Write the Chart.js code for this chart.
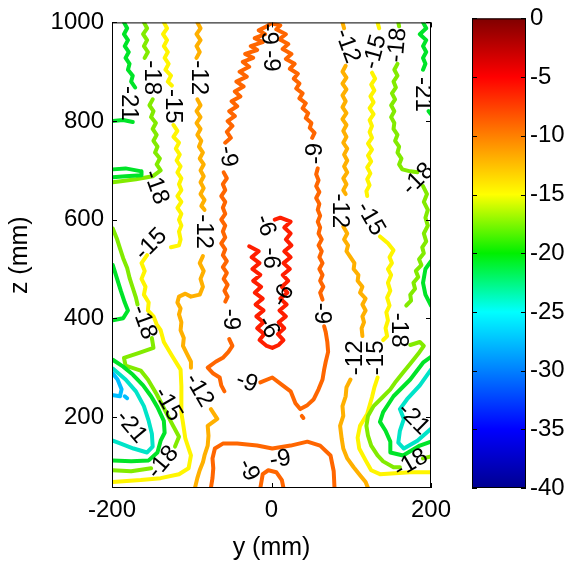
<!DOCTYPE html>
<html>
<head>
<meta charset="utf-8">
<title>contour</title>
<script src="https://cdn.jsdelivr.net/npm/chart.js@4.4.0/dist/chart.umd.min.js"></script>
<style>
  html, body { margin: 0; padding: 0; background: #fff; }
  #wrap { position: relative; width: 584px; height: 565px; }
  canvas { position: absolute; left: 0; top: 0; }
</style>
</head>
<body>
<div id="wrap">
  <canvas id="contourChart" width="584" height="565"></canvas>
  <canvas id="colorbarChart" width="584" height="565"></canvas>
</div>
<script>
var FONT = '"Liberation Sans", Arial, Helvetica, sans-serif';

var xTicks = [-200, 0, 200];
var zTicks = [200, 400, 600, 800, 1000];
var cbTicks = [-40, -35, -30, -25, -20, -15, -10, -5, 0];

/* contour pieces: pairs of y (mm), z (mm) */
var c6Loop = [-28,546, -16,536, -25,524, -15,512, -24,500, -14,488, -23,476, -13,464, -21,452, -11,440, -20,428, -10,416, -19,404, -10,392, -18,380, -9,368, -15,356, -6,344, 1,340, 9,346, 15,356, 8,368, 16,380, 9,392, 18,404, 10,416, 19,428, 11,440, 20,452, 13,464, 21,476, 14,488, 23,500, 15,512, 24,524, 16,536, 25,548, 18,560, 24,572, 16,584, 24,596, 11,604, 4,600];

var c9Top = [51,766, 54,776, 48,786, 50,796, 43,806, 46,816, 39,826, 43,836, 35,846, 39,856, 31,866, 35,876, 28,886, 33,896, 23,906, 29,916, 18,926, 25,936, 14,946, 21,956, 10,966, 18,976, 6,986, 11,994, -1,998, -6,992, -16,984, -8,976, -21,968, -11,960, -26,952, -18,944, -33,936, -23,928, -36,920, -28,910, -40,900, -31,890, -44,880, -35,870, -46,860, -39,850, -50,840, -43,830, -53,820, -46,810, -55,800, -49,790, -56,778, -51,766, -58,756];
var c9Left = [-60,696, -56,684, -61,672, -58,660, -63,648, -58,636, -61,624, -58,612, -63,600, -58,588, -61,576, -58,564, -63,552, -58,540, -61,528, -56,516, -61,504, -56,492, -60,480, -55,468, -59,456, -55,444, -58,434];
var c9Bottom1 = [-53,358, -49,344, -54,332, -61,320, -70,312, -80,300, -73,288, -65,280, -63,264, -59,252];
var c9Bottom2 = [-14,270, 1,280, 14,264, 24,252, 30,228, 36,216, 45,224, 53,236, 59,256, 64,276, 66,296, 68,312, 71,332, 70,352, 68,372, 66,384];
var c9Right = [64,438, 61,452, 65,464, 61,476, 64,488, 60,500, 64,512, 60,524, 63,536, 59,548, 63,560, 59,572, 61,584, 58,596, 61,608, 58,620, 60,632, 56,644, 60,656, 56,668, 59,680, 56,692, 58,704];
var c9Dot = [38,202, 40,198];
var c9Arch = [-76,56, -74,76, -73,96, -74,116, -71,136, -61,146, -43,146, -18,142, 1,136, 24,142, 45,150, 61,142, 74,122, 78,90, 79,56];
var c9Inner = [-14,56, -11,84, -4,92, 6,88, 13,72, 15,56];

var c12Left1 = [-93,1000, -89,988, -94,976, -89,964, -94,952, -90,940, -94,928];
var c12Left2 = [-93,844, -89,832, -94,820, -89,808, -94,796, -89,784, -93,772, -88,760, -91,748, -86,736, -90,724, -85,712, -89,700, -85,688, -89,676, -85,664, -89,652, -84,640, -88,628, -84,620];
var c12Left3 = [-86,526, -90,512, -85,496, -89,480, -86,464, -90,448, -101,444, -108,450, -116,444, -118,432, -114,420, -116,408, -113,392, -114,376, -110,360, -111,344, -106,328, -101,312, -101,300];
var c12Left4 = [-76,216, -68,196, -80,182, -79,162, -80,142, -84,122, -86,108, -90,92, -93,76, -96,56];
var c12Right0 = [89,1000, 91,988];
var c12Right1 = [93,912, 89,900, 94,888, 89,876, 94,864, 89,852, 93,840, 89,828, 94,816, 89,804, 94,792, 90,780, 94,768, 90,756, 95,744, 91,732, 95,720, 91,708, 95,696, 90,684, 94,672, 90,660, 93,652];
var c12Right2 = [90,586, 95,572, 91,560, 96,548, 94,536, 99,524, 104,512, 103,500, 109,488, 108,476, 114,464, 111,452, 118,440, 114,428, 118,416, 114,404, 116,392, 113,380, 114,364];
var c12Right3 = [99,276, 94,260, 93,242, 89,222, 90,202, 86,182, 88,156, 90,136, 95,116, 103,98, 111,82, 118,68, 121,56];

var c15Left1 = [-135,1000, -131,988, -136,976, -131,964, -135,952, -130,940, -134,928, -129,916, -133,904, -126,892, -130,880, -125,872];
var c15Left2 = [-123,792, -118,780, -123,768, -116,756, -120,744, -115,732, -119,720, -114,708, -118,696, -113,684, -116,672, -113,660, -118,648, -113,636, -118,624, -113,612, -116,600, -113,588, -116,576, -114,560, -116,548, -126,544];
var c15Left3 = [-156,528, -163,512, -159,496, -163,480, -158,464, -160,448, -154,432, -155,416, -148,404, -144,388, -139,376, -135,352, -124,322, -114,296, -113,262, -113,232, -113,208, -111,188, -108,156, -101,122, -104,96, -116,84, -139,76, -164,72, -199,68];
var c15Right0 = [133,1000, 135,988];
var c15Right1 = [126,898, 130,886, 125,874, 129,862, 124,850, 128,838, 123,826, 128,814, 123,802, 126,790, 123,778, 126,766, 121,754, 126,742, 121,730, 125,718, 120,706, 124,694, 120,682, 123,670, 119,658, 120,648];
var c15Right2 = [136,566, 146,552, 153,538, 148,524, 151,512, 146,500, 150,488, 146,472, 149,456, 145,442, 148,426, 144,412, 146,396, 143,380, 145,364, 140,356];
var c15Right3 = [133,280, 129,260, 126,240, 120,206, 111,182, 108,158, 110,136, 118,112, 125,92, 136,84, 155,86, 174,88, 200,88];

var c18Left1 = [-160,1000, -156,988, -161,976, -156,964, -160,952, -155,940, -159,928];
var c18Left2 = [-149,844, -153,832, -148,820, -151,808, -145,796, -149,784, -144,772, -148,760, -143,748, -146,736, -140,724, -144,712, -139,700, -149,688, -170,682, -189,678, -199,676];
var c18Left3 = [-199,582, -194,562, -190,542, -186,522, -181,502, -178,482, -174,462, -170,442, -168,428];
var c18Left4 = [-150,360, -148,340, -166,330, -185,320, -183,304, -164,294, -155,276, -144,246, -133,212, -124,184, -116,160, -121,140];
var c18Left5 = [-151,96, -176,90, -199,92];
var c18Right0 = [159,1000, 160,992];
var c18Right1 = [158,916, 154,904, 158,892, 153,880, 156,868, 151,856, 155,844, 150,832, 154,820, 150,808, 154,796, 153,784, 158,772, 155,760, 160,748, 158,736, 163,724, 160,712, 164,702, 174,698, 183,696];
var c18Right2 = [190,668, 195,652, 191,636, 196,620, 193,604, 196,588, 191,572, 194,556, 189,544, 191,532, 185,520, 188,508, 181,496, 184,484, 178,472, 180,460, 174,448, 175,436, 169,426];
var c18Right3 = [174,346, 186,352, 191,344, 184,328, 174,308, 165,290, 156,272, 149,256, 138,238, 128,222, 121,202, 119,182, 121,162, 125,142, 133,122, 140,110, 153,98, 161,98];
var c18Right4 = [190,116, 200,120];

var c21Left1 = [-185,1000, -181,988, -185,976, -180,964, -184,952, -179,940, -183,928, -178,916, -180,904, -174,892, -176,880, -171,868];
var c21Left2 = [-199,800, -186,802, -174,798];
var c21Left3 = [-199,702, -183,704, -163,698, -163,690, -183,688, -199,686];
var c21Left4 = [-199,508, -194,482, -189,456, -184,432, -180,416, -186,400, -199,396];
var c21Left5 = [-199,316, -186,302, -174,286, -161,264, -151,242, -143,220, -135,192, -134,168, -139,152, -143,128, -154,112, -176,110, -199,112];
var c21Right1 = [190,1000, 194,988, 186,976, 194,964, 190,952, 194,940, 190,928, 193,916, 190,904];
var c21Right2 = [197,820, 200,814];
var c21Right3 = [200,516, 193,500, 190,472, 193,448, 200,426];
var c21Right4 = [200,322, 190,310, 174,276, 153,242, 140,210, 136,190, 143,172, 149,150, 149,128, 165,122, 186,142, 200,150];

var c24Left = [-199,298, -183,276, -170,252, -160,222, -154,192, -150,166, -149,140, -156,128, -173,136, -189,146, -199,152];
var c24Right = [200,296, 186,264, 170,236, 161,216, 166,196, 161,172, 159,148, 166,136, 183,152, 200,176];
var c27Left = [-199,288, -193,276, -188,256, -190,242, -198,244];
var c27Dot = [-184,242, -181,238];

var contourSegs = [
    [-27, c27Left], [-27, c27Dot],
    [-24, c24Left], [-24, c24Right],
    [-21, c21Left1], [-21, c21Left2], [-21, c21Left3], [-21, c21Left4], [-21, c21Left5],
    [-21, c21Right1], [-21, c21Right2], [-21, c21Right3], [-21, c21Right4],
    [-18, c18Left1], [-18, c18Left2], [-18, c18Left3], [-18, c18Left4], [-18, c18Left5],
    [-18, c18Right0], [-18, c18Right1], [-18, c18Right2], [-18, c18Right3], [-18, c18Right4],
    [-15, c15Left1], [-15, c15Left2], [-15, c15Left3],
    [-15, c15Right0], [-15, c15Right1], [-15, c15Right2], [-15, c15Right3],
    [-12, c12Left1], [-12, c12Left2], [-12, c12Left3], [-12, c12Left4],
    [-12, c12Right0], [-12, c12Right1], [-12, c12Right2], [-12, c12Right3],
    [-9, c9Top], [-9, c9Left], [-9, c9Bottom1], [-9, c9Bottom2], [-9, c9Right],
    [-9, c9Dot], [-9, c9Arch], [-9, c9Inner],
    [-6, c6Loop]
];

/* inline contour labels */
var labelText  = ['-21','-18','-15','-12','-9','-18','-15','-12','-9','-18','-9','-12','-15','-21','-18','-9','-9','-6','-6','-6','-6','-9','-9','-12','-15','-12','-15','-18','-21','-18','-12','-15','-18','-21','-18','-9','-9'];
var labelY     = [-179,-150,-124,-92,-55,-145,-151,-85,-51,-160,-31,-91,-130,-176,-136,-29,11,-8,-1,15,-4,63,55,86,124,105,131,159,178,175,95,130,158,189,184,-4,-1];
var labelZ     = [836,888,830,888,728,666,550,576,398,392,270,254,226,180,108,92,114,588,522,446,382,410,734,618,602,320,320,376,196,106,952,940,954,854,682,976,922];
var labelAngle = [90,90,90,90,80,70,-45,90,90,70,20,60,60,50,-50,65,-10,70,90,-60,60,90,-90,90,60,-90,-90,90,45,-30,70,-75,-85,90,-45,90,90];

var levelColors = {
    '-6': 'rgb(255,30,0)',
    '-9': 'rgb(255,102,0)',
    '-12': 'rgb(255,176,0)',
    '-15': 'rgb(255,245,0)',
    '-18': 'rgb(130,235,0)',
    '-21': 'rgb(0,228,40)',
    '-24': 'rgb(0,228,200)',
    '-27': 'rgb(0,190,255)'
};
var jetStops = ['#000090', '#0000ff', '#0080ff', '#00ffff', '#00f000', '#ffff00', '#ff8000', '#ff0000', '#800000'];

Chart.defaults.color = '#000';
Chart.defaults.font.family = FONT;

function toPoints(flat) {
    var pts = [];
    for (var i = 0; i < flat.length; i += 2) {
        pts.push({ x: flat[i], y: flat[i + 1] });
    }
    return pts;
}

function plainTick(value) {
    return String(value);
}

/* box round the plot area with the small inward ticks */
var boxTicks = {
    id: 'boxTicks',
    afterDraw: function (chart) {
        var ctx = chart.ctx;
        var a = chart.chartArea;
        var len = 5;
        ctx.save();
        ctx.strokeStyle = '#000';
        ctx.lineWidth = 1;
        ctx.strokeRect(a.left + 0.5, a.top + 0.5, a.right - a.left - 1, a.bottom - a.top - 1);
        ctx.beginPath();
        Object.keys(chart.scales).forEach(function (id) {
            var s = chart.scales[id];
            if (!s.options.display) return;
            s.ticks.forEach(function (t) {
                var p = Math.round(s.getPixelForValue(t.value)) + 0.5;
                if (s.isHorizontal()) {
                    ctx.moveTo(p, a.bottom); ctx.lineTo(p, a.bottom - len);
                    ctx.moveTo(p, a.top); ctx.lineTo(p, a.top + len);
                } else {
                    ctx.moveTo(a.left, p); ctx.lineTo(a.left + len, p);
                    ctx.moveTo(a.right, p); ctx.lineTo(a.right - len, p);
                }
            });
        });
        ctx.stroke();
        ctx.restore();
    }
};

/* labels written on the contour lines */
var contourLabels = {
    id: 'contourLabels',
    afterDatasetsDraw: function (chart) {
        var ctx = chart.ctx;
        var a = chart.chartArea;
        var sx = chart.scales.x;
        var sy = chart.scales.y;
        ctx.save();
        ctx.beginPath();
        ctx.rect(a.left, a.top, a.right - a.left, a.bottom - a.top);
        ctx.clip();
        ctx.fillStyle = '#000';
        ctx.font = '24px ' + FONT;
        ctx.textAlign = 'center';
        ctx.textBaseline = 'middle';
        for (var i = 0; i < labelText.length; ++i) {
            ctx.save();
            ctx.translate(sx.getPixelForValue(labelY[i]), sy.getPixelForValue(labelZ[i]));
            ctx.rotate(labelAngle[i] * Math.PI / 180);
            ctx.fillText(labelText[i], 0, 0);
            ctx.restore();
        }
        ctx.restore();
    }
};

var datasets = contourSegs.map(function (seg) {
    return {
        data: toPoints(seg[1]),
        showLine: true,
        borderColor: levelColors[seg[0]],
        borderWidth: 4,
        borderJoinStyle: 'round',
        borderCapStyle: 'round',
        pointRadius: 0,
        fill: false,
        tension: 0,
        clip: 0
    };
});

var contourChart = new Chart(document.getElementById('contourChart'), {
    type: 'scatter',
    data: { datasets: datasets },
    options: {
        responsive: false,
        animation: false,
        devicePixelRatio: 1,
        events: [],
        layout: { padding: { left: 0, top: 16, right: 153, bottom: 0 } },
        plugins: { legend: { display: false }, tooltip: { enabled: false } },
        scales: {
            x: {
                type: 'linear',
                min: -200,
                max: 200,
                afterBuildTicks: function (scale) {
                    scale.ticks = xTicks.map(function (v) { return { value: v }; });
                },
                afterFit: function (scale) { scale.height = 77; },
                grid: { display: false, drawTicks: false },
                border: { display: false },
                ticks: { padding: 8, font: { size: 24 }, maxRotation: 0, callback: plainTick },
                title: { display: true, text: 'y (mm)', font: { size: 25 }, padding: { top: 0, bottom: 2 } }
            },
            y: {
                type: 'linear',
                min: 56,
                max: 1000,
                afterBuildTicks: function (scale) {
                    scale.ticks = zTicks.map(function (v) { return { value: v }; });
                },
                afterFit: function (scale) { scale.width = 112; },
                grid: { display: false, drawTicks: false },
                border: { display: false },
                ticks: { padding: 8, font: { size: 24 }, callback: plainTick },
                title: { display: true, text: 'z (mm)', font: { size: 25 }, padding: { top: 5, bottom: 0 } }
            }
        }
    },
    plugins: [contourLabels, boxTicks]
});

function jetGradient(context) {
    var chart = context.chart;
    var a = chart.chartArea;
    if (!a) return null;
    var g = chart.ctx.createLinearGradient(0, a.bottom, 0, a.top);
    for (var i = 0; i < jetStops.length; ++i) {
        g.addColorStop(i / (jetStops.length - 1), jetStops[i]);
    }
    return g;
}

var colorbarChart = new Chart(document.getElementById('colorbarChart'), {
    type: 'bar',
    data: {
        labels: [''],
        datasets: [{
            data: [[cbTicks[0], cbTicks[cbTicks.length - 1]]],
            backgroundColor: jetGradient,
            borderWidth: 0,
            barPercentage: 1,
            categoryPercentage: 1
        }]
    },
    options: {
        responsive: false,
        animation: false,
        devicePixelRatio: 1,
        events: [],
        layout: { padding: { left: 472, top: 16, right: 0, bottom: 77 } },
        plugins: { legend: { display: false }, tooltip: { enabled: false } },
        scales: {
            x: { display: false },
            y: {
                position: 'right',
                min: cbTicks[0],
                max: cbTicks[cbTicks.length - 1],
                afterBuildTicks: function (scale) {
                    scale.ticks = cbTicks.map(function (v) { return { value: v }; });
                },
                afterFit: function (scale) { scale.width = 58; },
                grid: { display: false, drawTicks: false },
                border: { display: false },
                ticks: { padding: 4, font: { size: 24 }, callback: plainTick }
            }
        }
    },
    plugins: [boxTicks]
});
</script>
</body>
</html>
